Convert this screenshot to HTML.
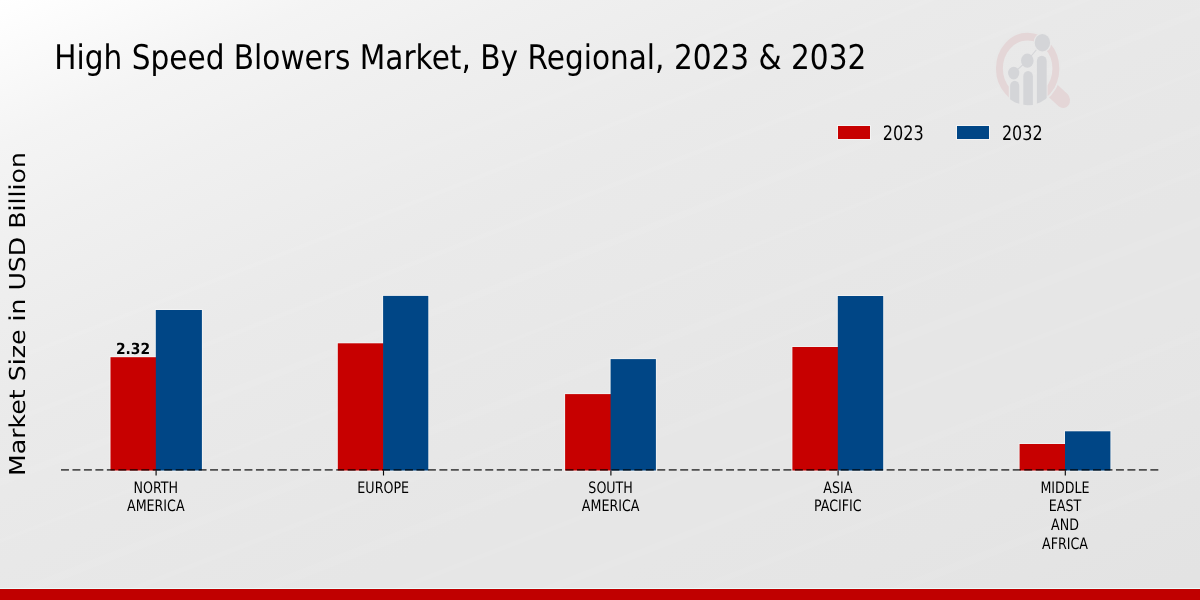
<!DOCTYPE html>
<html lang="en">
<head>
<meta charset="utf-8">
<title>High Speed Blowers Market, By Regional, 2023 &amp; 2032</title>
<style>
html,body{margin:0;padding:0;background:#e8e8e8;}
body{width:1200px;height:600px;overflow:hidden;font-family:"DejaVu Sans","Liberation Sans",sans-serif;}
svg{display:block;}
text{text-rendering:geometricPrecision;font-family:"DejaVu Sans","Liberation Sans",sans-serif;fill:#000;}
text.cond,g.condg text{text-rendering:geometricPrecision;font-family:"DejaVu Sans Condensed","DejaVu Sans","Liberation Sans",sans-serif;}
</style>
</head>
<body>
<svg width="1200" height="600" viewBox="0 0 1200 600">
  <defs>
    <linearGradient id="bg" gradientUnits="userSpaceOnUse" x1="0" y1="0" x2="431.5" y2="949.3">
      <stop offset="0.0000" stop-color="#ffffff"/>
      <stop offset="0.0480" stop-color="#fbfbfb"/>
      <stop offset="0.0940" stop-color="#f7f7f7"/>
      <stop offset="0.1274" stop-color="#f4f4f4"/>
      <stop offset="0.1718" stop-color="#f2f2f2"/>
      <stop offset="0.2067" stop-color="#f0f0f0"/>
      <stop offset="0.2857" stop-color="#ededed"/>
      <stop offset="0.3710" stop-color="#eaeaea"/>
      <stop offset="0.4960" stop-color="#e8e8e8"/>
      <stop offset="0.5702" stop-color="#e7e7e7"/>
      <stop offset="0.6480" stop-color="#e6e6e6"/>
      <stop offset="0.7460" stop-color="#e6e6e6"/>
      <stop offset="0.8401" stop-color="#e5e5e5"/>
      <stop offset="0.9762" stop-color="#e3e3e3"/>
      <stop offset="1.0000" stop-color="#e3e3e3"/>
    </linearGradient>
    <clipPath id="lens"><circle cx="0" cy="0" r="36.7"/></clipPath>
  </defs>
  <!-- background -->
  <rect x="0" y="0" width="1200" height="600" fill="url(#bg)"/>

  <!-- faint diagonal streaks -->
  <g stroke="#ffffff" fill="none">
    <line x1="-10" y1="429.4" x2="1210" y2="-49.0" stroke-width="5" stroke-opacity="0.06"/>
    <line x1="-10" y1="486.3" x2="1210" y2="7.8" stroke-width="7" stroke-opacity="0.07"/>
    <line x1="-10" y1="545.1" x2="1210" y2="66.7" stroke-width="4" stroke-opacity="0.05"/>
    <line x1="-10" y1="603.9" x2="1210" y2="125.5" stroke-width="8" stroke-opacity="0.07"/>
    <line x1="-10" y1="645.1" x2="1210" y2="166.7" stroke-width="5" stroke-opacity="0.06"/>
    <line x1="-10" y1="696.1" x2="1210" y2="217.6" stroke-width="9" stroke-opacity="0.07"/>
    <line x1="-10" y1="749.0" x2="1210" y2="270.6" stroke-width="5" stroke-opacity="0.05"/>
    <line x1="-10" y1="807.8" x2="1210" y2="329.4" stroke-width="7" stroke-opacity="0.06"/>
    <line x1="-10" y1="866.7" x2="1210" y2="388.2" stroke-width="6" stroke-opacity="0.06"/>
    <line x1="-10" y1="945.1" x2="1210" y2="466.7" stroke-width="8" stroke-opacity="0.06"/>
    <line x1="-10" y1="317.6" x2="1210" y2="-160.8" stroke-width="6" stroke-opacity="0.05"/>
    <line x1="-10" y1="368.6" x2="1210" y2="-109.8" stroke-width="5" stroke-opacity="0.05"/>
  </g>

  <!-- watermark logo -->
  <g id="logo" transform="translate(1027.65,68.5) scale(0.885,1)">
    <line x1="28.4" y1="22.2" x2="40.0" y2="31.7" stroke="#e4d6d7" stroke-width="15.8" stroke-linecap="round"/>
    <circle cx="0" cy="0" r="36.7" fill="none" stroke="#e8e8e8" stroke-width="2.2"/>
    <circle cx="0" cy="0" r="31.9" fill="none" stroke="#e4d6d7" stroke-width="7.8"/>
    <g clip-path="url(#lens)">
      <rect x="-21.3" y="6" width="43.8" height="40" fill="#e8e8e8"/>
      <g fill="#d4d5d8">
        <rect x="-19.8" y="12.2" width="10.3" height="40" rx="5.15"/>
        <rect x="-4.9" y="2.4" width="10.8" height="50" rx="5.4"/>
        <rect x="10.45" y="-12.8" width="11.05" height="60" rx="5.5"/>
      </g>
    </g>
    <polyline points="-15.76,4.6 -0.4,-7.8 16.67,-25.8" fill="none" stroke="#d4d5d8" stroke-width="1.05"/>
    <circle cx="16.67" cy="-25.8" r="10" fill="#e8e8e8"/>
    <g fill="#d4d5d8">
      <circle cx="-15.76" cy="4.6" r="6.35"/>
      <circle cx="-0.4" cy="-7.8" r="7.1"/>
      <circle cx="16.67" cy="-25.8" r="8.7"/>
    </g>
  </g>

  <!-- title -->
  <text transform="translate(54.3,68.85) scale(0.870,1)" font-size="34">High Speed Blowers Market, By Regional, 2023 &amp; 2032</text>

  <!-- y axis label -->
  <text transform="translate(24.7,314.0) rotate(-90) scale(1.151,1)" font-size="21.9" text-anchor="middle">Market Size in USD Billion</text>

  <!-- legend -->
  <rect x="837" y="125" width="34" height="15" fill="#ffffff" fill-opacity="0.5"/>
  <rect x="838" y="126" width="32" height="13" fill="#c70000"/>
  <text transform="translate(882.8,139.5) scale(0.8945,1)" class="cond" font-size="20">2023</text>
  <rect x="956" y="125" width="34" height="15" fill="#ffffff" fill-opacity="0.5"/>
  <rect x="957" y="126" width="32" height="13" fill="#004686"/>
  <text transform="translate(1001.9,139.6) scale(0.888,1)" class="cond" font-size="20">2032</text>

  <!-- soft halo around bars -->
  <g fill="#ffffff" fill-opacity="0.4">
    <rect x="109.5" y="356.2" width="48.0" height="115.5"/>
    <rect x="336.8" y="342.3" width="48.0" height="129.4"/>
    <rect x="564.1" y="393.1" width="48.0" height="78.6"/>
    <rect x="791.4" y="346.0" width="48.0" height="125.7"/>
    <rect x="1018.6" y="443.0" width="48.0" height="28.7"/>
    <rect x="154.8" y="309.0" width="48.1" height="162.7"/>
    <rect x="382.1" y="294.9" width="47.2" height="176.8"/>
    <rect x="609.6" y="358.1" width="47.3" height="113.6"/>
    <rect x="836.8" y="295.0" width="47.4" height="176.7"/>
    <rect x="1064.0" y="430.3" width="47.4" height="41.4"/>
  </g>

  <!-- bars -->
  <g fill="#c70000">
    <rect x="110.5" y="357.2" width="46.0" height="113.3"/>
    <rect x="337.8" y="343.3" width="46.0" height="127.2"/>
    <rect x="565.1" y="394.1" width="46.0" height="76.4"/>
    <rect x="792.4" y="347" width="46.0" height="123.5"/>
    <rect x="1019.6" y="444" width="46.0" height="26.5"/>
  </g>
  <g fill="#004686">
    <rect x="155.8" y="310" width="46.1" height="160.5"/>
    <rect x="383.1" y="295.9" width="45.2" height="174.6"/>
    <rect x="610.6" y="359.1" width="45.3" height="111.4"/>
    <rect x="837.8" y="296" width="45.4" height="174.5"/>
    <rect x="1065" y="431.3" width="45.4" height="39.2"/>
  </g>

  <!-- value label -->
  <text transform="translate(133.0,354.3) scale(0.905,1)" font-size="15.3" font-weight="bold" text-anchor="middle">2.32</text>

  <!-- axis -->
  <line x1="61" y1="469.9" x2="1158.4" y2="469.9" stroke="#000" stroke-opacity="0.66" stroke-width="1.6" stroke-dasharray="7.95 3.517"/>
  <g stroke="#0a0a0a" stroke-width="1.15">
    <line x1="156.1" y1="470.4" x2="156.1" y2="475.5"/>
    <line x1="383.5" y1="470.4" x2="383.5" y2="475.5"/>
    <line x1="610.9" y1="470.4" x2="610.9" y2="475.5"/>
    <line x1="838.1" y1="470.4" x2="838.1" y2="475.5"/>
    <line x1="1065.3" y1="470.4" x2="1065.3" y2="475.5"/>
  </g>

  <!-- tick labels -->
  <g font-size="15.7" text-anchor="middle" class="condg">
    <text transform="translate(155.8,492.6) scale(0.897,1)">NORTH</text>
    <text transform="translate(155.8,511.4) scale(0.897,1)">AMERICA</text>
    <text transform="translate(383.2,492.6) scale(0.897,1)">EUROPE</text>
    <text transform="translate(610.6,492.6) scale(0.897,1)">SOUTH</text>
    <text transform="translate(610.6,511.4) scale(0.897,1)">AMERICA</text>
    <text transform="translate(837.8,492.6) scale(0.897,1)">ASIA</text>
    <text transform="translate(837.8,511.4) scale(0.897,1)">PACIFIC</text>
    <text transform="translate(1065,492.6) scale(0.897,1)">MIDDLE</text>
    <text transform="translate(1065,511.4) scale(0.897,1)">EAST</text>
    <text transform="translate(1065,530.2) scale(0.897,1)">AND</text>
    <text transform="translate(1065,549.0) scale(0.897,1)">AFRICA</text>
  </g>

  <!-- bottom band -->
  <rect x="0" y="588" width="1200" height="1" fill="#eafcfc"/>
  <rect x="0" y="589" width="1200" height="11" fill="#c00000"/>
</svg>
</body>
</html>
